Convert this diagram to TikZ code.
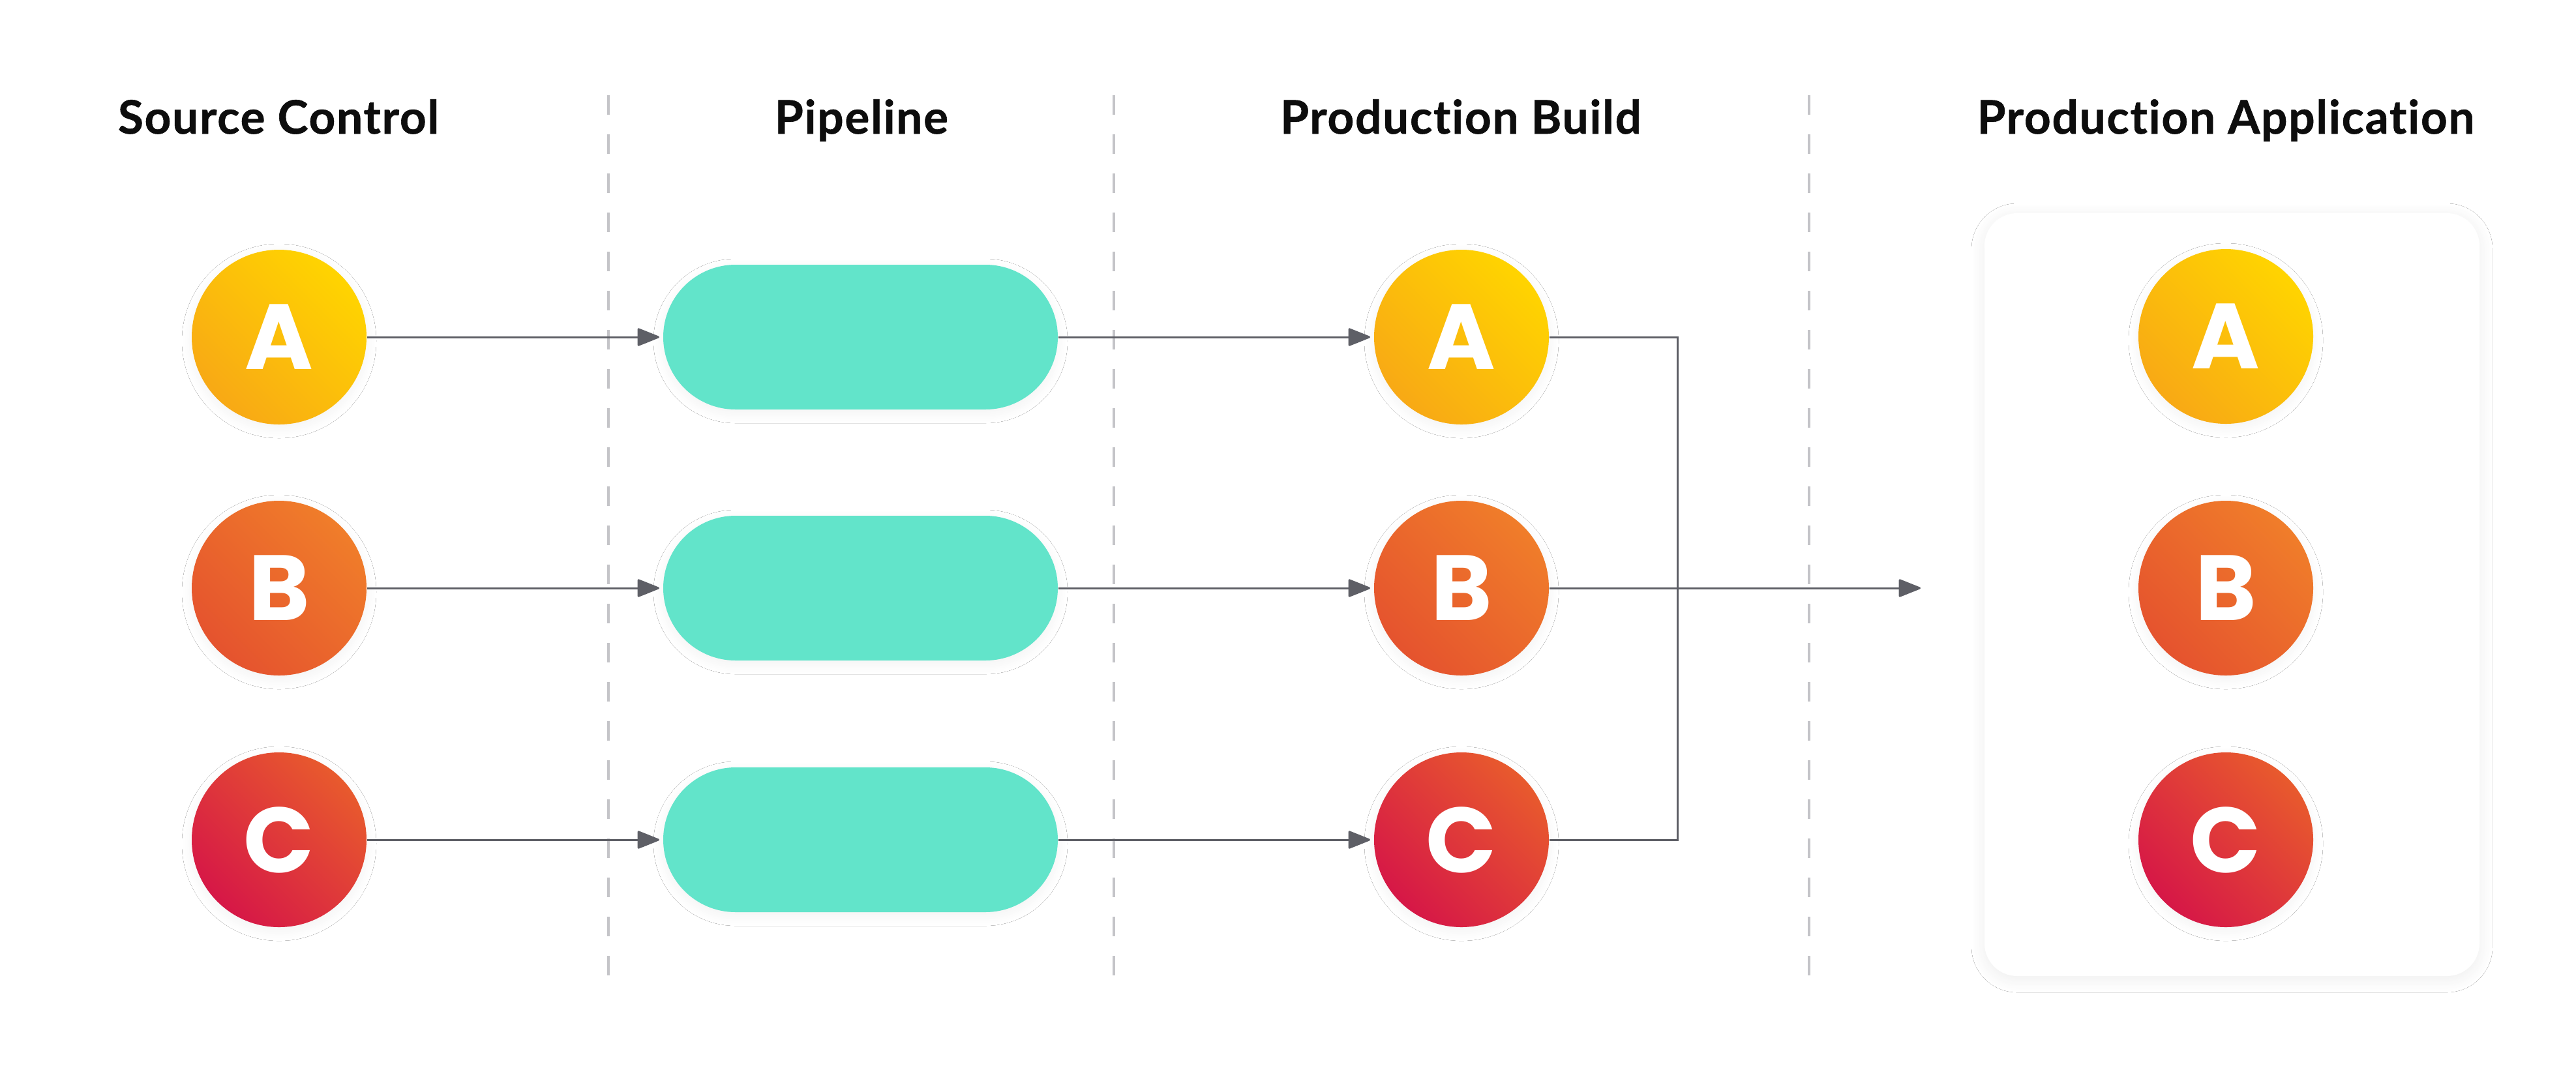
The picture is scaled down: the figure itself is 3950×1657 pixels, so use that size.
\documentclass[tikz,border=0pt]{standalone}
\usepackage{fontspec}
\newfontfamily\headfont{Lato}[Ligatures=NoCommon, LetterSpace=2.5, BoldFeatures={FakeBold=0.8}]
\newfontfamily\letterfont{Poppins}
\usetikzlibrary{arrows.meta,shadows.blur}
\definecolor{cAtop}{HTML}{FFD400}
\definecolor{cAbot}{HTML}{F8A915}
\definecolor{cBtop}{HTML}{F07D2A}
\definecolor{cBbot}{HTML}{E5532E}
\definecolor{cCtop}{HTML}{E85A2D}
\definecolor{cCbot}{HTML}{D61747}
\definecolor{pillc}{HTML}{62E4CA}
\definecolor{linec}{HTML}{5E5F66}
\definecolor{sepc}{HTML}{C4C4C8}
\definecolor{headc}{HTML}{0D0D0D}
\begin{document}
\begin{tikzpicture}[x=0.2pt,y=-0.2pt,
  head/.style={font=\headfont\bfseries\fontsize{14.2pt}{17pt}\selectfont, text=headc, anchor=base, inner sep=0pt},
  ball/.style={circle, minimum size=53.6pt, inner sep=0pt, text=white,
    font=\letterfont\bfseries\fontsize{28.4pt}{30pt}\selectfont,
    blur shadow={shadow xshift=0pt, shadow yshift=-1.2pt, shadow blur radius=3pt, shadow blur steps=12, shadow opacity=5}},
  ballA/.style={ball, top color=cAtop, bottom color=cAbot, shading angle=-45},
  ballB/.style={ball, top color=cBtop, bottom color=cBbot, shading angle=-45},
  ballC/.style={ball, top color=cCtop, bottom color=cCbot, shading angle=-45},
  pill/.style={rectangle, rounded corners=22.2pt, minimum width=121pt, minimum height=44.4pt, inner sep=0pt, fill=pillc,
    blur shadow={shadow xshift=0pt, shadow yshift=-1.2pt, shadow blur radius=3pt, shadow blur steps=12, shadow opacity=5}},
  appbox/.style={rectangle, rounded corners=10pt, minimum width=151.8pt, minimum height=234pt, inner sep=0pt, fill=white,
    blur shadow={shadow xshift=0pt, shadow yshift=-1pt, shadow blur radius=4pt, shadow blur steps=12, shadow opacity=7}},
  conn/.style={draw=linec, line width=0.6pt},
  arr/.style={conn, -{Triangle[length=7.2pt,width=5.6pt,round]}, shorten >=1pt},
  sep/.style={draw=sepc, line width=0.8pt, dash pattern=on 6pt off 6pt}
]
\useasboundingbox[fill=white] (0,0) rectangle (3950,1657);

% separators
\draw[sep] (933,146) -- (933,1496);
\draw[sep] (1708,146) -- (1708,1496);
\draw[sep] (2774,146) -- (2774,1496);

% headings
\node[head] (h1) at (427,205) {Source Control};
\node[head] (h2) at (1321,205) {Pipeline};
\node[head] (h3) at (2240,205) {Production Build};
\node[head] (h4) at (3413,205) {Production Application};

% application box
\node[appbox] (box) at (3422.5,912) {};

% source control
\node[ballA] (s1) at (428,517) {A};
\node[ballB] (s2) at (428,902) {B};
\node[ballC] (s3) at (428,1288) {C};

% pipeline
\node[pill] (p1) at (1319.5,517) {};
\node[pill] (p2) at (1319.5,902) {};
\node[pill] (p3) at (1319.5,1288) {};

% production build
\node[ballA] (b1) at (2241,517) {A};
\node[ballB] (b2) at (2241,902) {B};
\node[ballC] (b3) at (2241,1288) {C};

% production application
\node[ballA] (a1) at (3413,516) {A};
\node[ballB] (a2) at (3413,902) {B};
\node[ballC] (a3) at (3413,1288) {C};

% connectors
\draw[arr] (s1) -- (p1);
\draw[arr] (s2) -- (p2);
\draw[arr] (s3) -- (p3);
\draw[arr] (p1) -- (b1);
\draw[arr] (p2) -- (b2);
\draw[arr] (p3) -- (b3);

\coordinate (jt) at (2572,517);
\coordinate (jb) at (2572,1288);
\coordinate (out) at (2950,902);
\draw[conn] (b1.east) -- (jt) -- (jb) -- (b3.east);
\draw[arr] (b2) -- (out);
\end{tikzpicture}
\end{document}
